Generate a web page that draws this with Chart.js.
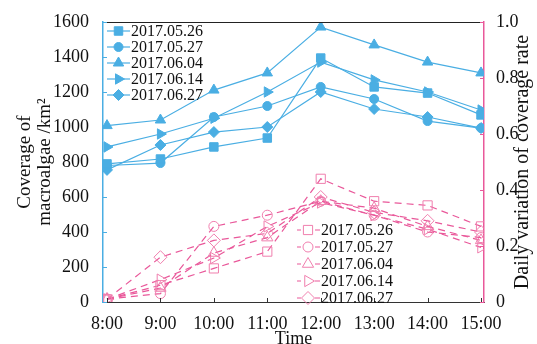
<!DOCTYPE html>
<html>
<head>
<meta charset="utf-8">
<script src="https://cdn.jsdelivr.net/npm/chart.js@4.4.1/dist/chart.umd.min.js"></script>
<style>
  html, body { margin: 0; padding: 0; background: #fff; }
  canvas { display: block; }
</style>
</head>
<body>
<canvas id="myChart" width="537" height="344"></canvas>
<script>
// time of day (hours)
const hours = [8, 9, 10, 11, 12, 13, 14, 15];
const dates = ["2017.05.26", "2017.05.27", "2017.06.04", "2017.06.14", "2017.06.27"];

// coverage of macroalgae, km2 (left axis)
const cover0526 = [789, 817, 886, 937, 1394, 1229, 1194, 1069];
const cover0527 = [780, 794, 1057, 1120, 1229, 1160, 1034, 994];
const cover0604 = [1008, 1040, 1211, 1309, 1571, 1469, 1371, 1309];
const cover0614 = [886, 960, 1050, 1200, 1371, 1269, 1200, 1097];
const cover0627 = [755, 897, 971, 1000, 1200, 1103, 1057, 994];

// daily variation of coverage rate (right axis)
const rate0526 = [0.01, 0.06, 0.12, 0.18, 0.44, 0.36, 0.345, 0.27];
const rate0527 = [0.01, 0.03, 0.27, 0.31, 0.36, 0.31, 0.25, 0.23];
const rate0604 = [0.01, 0.05, 0.175, 0.23, 0.36, 0.335, 0.27, 0.22];
const rate0614 = [0.01, 0.08, 0.157, 0.27, 0.355, 0.31, 0.26, 0.195];
const rate0627 = [0.01, 0.16, 0.22, 0.245, 0.375, 0.32, 0.29, 0.25];

const leftTicks = [0, 200, 400, 600, 800, 1000, 1200, 1400, 1600];
const rightTicks = [0, 0.2, 0.4, 0.6, 0.8, 1.0];

const BLUE = "#4aaee3";
const PINK = "#e9589a";
const PINK_MK = "#f07fae";
const FONT = "'Liberation Serif', 'Times New Roman', serif";

const styles = [
  { pointStyle: "rect", rotation: 0, r: 6, rp: 6.5 },
  { pointStyle: "circle", rotation: 0, r: 4.5, rp: 5 },
  { pointStyle: "triangle", rotation: 0, r: 6, rp: 6.5 },
  { pointStyle: "triangle", rotation: 90, r: 6, rp: 6.5 },
  { pointStyle: "rectRot", rotation: 0, r: 5.5, rp: 6.5 },
];

const toXY = (arr) => arr.map((v, i) => ({ x: hours[i], y: v }));
const covers = [cover0526, cover0527, cover0604, cover0614, cover0627];
const rates = [rate0526, rate0527, rate0604, rate0614, rate0627];

const datasets = [];
covers.forEach((arr, i) => {
  datasets.push({
    label: dates[i],
    data: toXY(arr),
    yAxisID: "y",
    borderColor: BLUE,
    backgroundColor: BLUE,
    borderWidth: 1.2,
    pointStyle: styles[i].pointStyle,
    pointRotation: styles[i].rotation,
    pointRadius: styles[i].r,
    pointBorderWidth: 1,
    pointBackgroundColor: BLUE,
    pointBorderColor: BLUE,
  });
});
rates.forEach((arr, i) => {
  datasets.push({
    label: dates[i],
    data: toXY(arr),
    yAxisID: "y1",
    borderColor: PINK,
    borderWidth: 1.2,
    borderDash: [7, 5],
    pointStyle: styles[i].pointStyle,
    pointRotation: styles[i].rotation,
    pointRadius: styles[i].rp,
    pointBorderWidth: 1,
    pointBackgroundColor: "rgba(255,255,255,0)",
    pointBorderColor: PINK_MK,
  });
});

function drawMarker(ctx, ds, x, y) {
  const opts = {
    pointStyle: ds.pointStyle,
    rotation: ds.pointRotation,
    radius: ds.pointRadius,
    borderWidth: ds.pointBorderWidth,
  };
  ctx.fillStyle = ds.pointBackgroundColor;
  ctx.strokeStyle = ds.pointBorderColor;
  ctx.lineWidth = ds.pointBorderWidth;
  ctx.setLineDash([]);
  Chart.helpers.drawPoint(ctx, opts, x, y);
}

const decor = {
  id: "decor",
  afterDraw(chart) {
    const ctx = chart.ctx;
    const a = chart.chartArea;
    const sx = chart.scales.x, sy = chart.scales.y, sy1 = chart.scales.y1;
    ctx.save();
    ctx.lineWidth = 1;
    ctx.setLineDash([]);
    // top frame line
    ctx.strokeStyle = "#222";
    ctx.beginPath();
    ctx.moveTo(a.left, a.top + 0.5);
    ctx.lineTo(a.right, a.top + 0.5);
    ctx.stroke();
    // inside tick marks
    ctx.strokeStyle = BLUE;
    sy.ticks.forEach((t) => {
      const y = Math.round(sy.getPixelForValue(t.value)) + 0.5;
      ctx.beginPath(); ctx.moveTo(a.left, y); ctx.lineTo(a.left + 4, y); ctx.stroke();
    });
    ctx.strokeStyle = PINK;
    sy1.ticks.forEach((t) => {
      const y = Math.round(sy1.getPixelForValue(t.value)) + 0.5;
      ctx.beginPath(); ctx.moveTo(a.right, y); ctx.lineTo(a.right - 4, y); ctx.stroke();
    });
    ctx.strokeStyle = "#333";
    sx.ticks.forEach((t) => {
      const x = Math.round(sx.getPixelForValue(t.value)) + 0.5;
      ctx.beginPath(); ctx.moveTo(x, a.bottom); ctx.lineTo(x, a.bottom - 4); ctx.stroke();
    });

    // right axis title, reading bottom to top
    ctx.fillStyle = "#111";
    ctx.font = "20px " + FONT;
    ctx.textAlign = "center";
    ctx.textBaseline = "middle";
    ctx.save();
    ctx.translate(523, (a.top + a.bottom) / 2);
    ctx.rotate(-Math.PI / 2);
    ctx.fillText("Daily variation of coverage rate", 0, 0);
    ctx.restore();

    // legends
    ctx.font = "16px " + FONT;
    ctx.textAlign = "left";
    const blue = chart.data.datasets.filter((d) => d.yAxisID === "y");
    const pink = chart.data.datasets.filter((d) => d.yAxisID === "y1");
    blue.forEach((ds, i) => {
      const y = 31 + i * 16;
      ctx.strokeStyle = BLUE; ctx.lineWidth = 1.2; ctx.setLineDash([]);
      ctx.beginPath(); ctx.moveTo(107, y); ctx.lineTo(130, y); ctx.stroke();
      drawMarker(ctx, ds, 118.5, y);
      ctx.fillStyle = "#111";
      ctx.fillText(ds.label, 131, y + 1);
    });
    pink.forEach((ds, i) => {
      const y = 230 + i * 17;
      ctx.strokeStyle = PINK; ctx.lineWidth = 1.2; ctx.setLineDash([]);
      ctx.beginPath(); ctx.moveTo(297, y); ctx.lineTo(301, y); ctx.moveTo(315, y); ctx.lineTo(320, y); ctx.stroke();
      drawMarker(ctx, ds, 308, y);
      ctx.fillStyle = "#111";
      ctx.fillText(ds.label, 321, y + 1);
    });
    ctx.restore();
  },
};

const ctx = document.getElementById("myChart");
new Chart(ctx, {
  type: "line",
  data: { datasets: datasets },
  options: {
    responsive: false,
    animation: false,
    devicePixelRatio: 1,
    layout: { padding: { top: 22, right: 0, bottom: 0, left: 0 } },
    plugins: { legend: { display: false }, tooltip: { enabled: false } },
    scales: {
      x: {
        type: "linear",
        min: 7.925,
        max: 15.056,
        afterBuildTicks: (axis) => { axis.ticks = hours.map((v) => ({ value: v })); },
        afterFit: (axis) => { axis.height = 42; },
        grid: { display: false },
        border: { color: "#333", width: 1 },
        ticks: {
          color: "#111",
          padding: 3,
          maxRotation: 0,
          font: { family: FONT, size: 18 },
          callback: (v) => v + ":00",
        },
        title: {
          display: true,
          text: "Time",
          color: "#111",
          font: { family: FONT, size: 18 },
          padding: { top: 0, bottom: -6 },
        },
      },
      y: {
        position: "left",
        min: 0,
        max: 1600,
        afterBuildTicks: (axis) => { axis.ticks = leftTicks.map((v) => ({ value: v })); },
        afterFit: (axis) => { axis.width = 103; },
        grid: { display: false },
        border: { color: BLUE, width: 1.5 },
        ticks: {
          color: "#111",
          padding: 6,
          font: { family: FONT, size: 18 },
          callback: (v) => String(v),
        },
        title: {
          display: true,
          text: ["Coverage of", "macroalgae /km\u00b2"],
          color: "#111",
          font: { family: FONT, size: 19, lineHeight: 1.05 },
          padding: { top: 15, bottom: 0 },
        },
      },
      y1: {
        position: "right",
        min: 0,
        max: 1,
        afterBuildTicks: (axis) => { axis.ticks = rightTicks.map((v) => ({ value: v })); },
        afterFit: (axis) => { axis.width = 53; },
        grid: { display: false },
        border: { color: PINK, width: 1.5 },
        ticks: {
          color: "#111",
          padding: 4,
          font: { family: FONT, size: 18 },
          callback: (v) => (v === 0 ? "0" : v.toFixed(1)),
        },
      },
    },
  },
  plugins: [decor],
});
</script>
</body>
</html>
